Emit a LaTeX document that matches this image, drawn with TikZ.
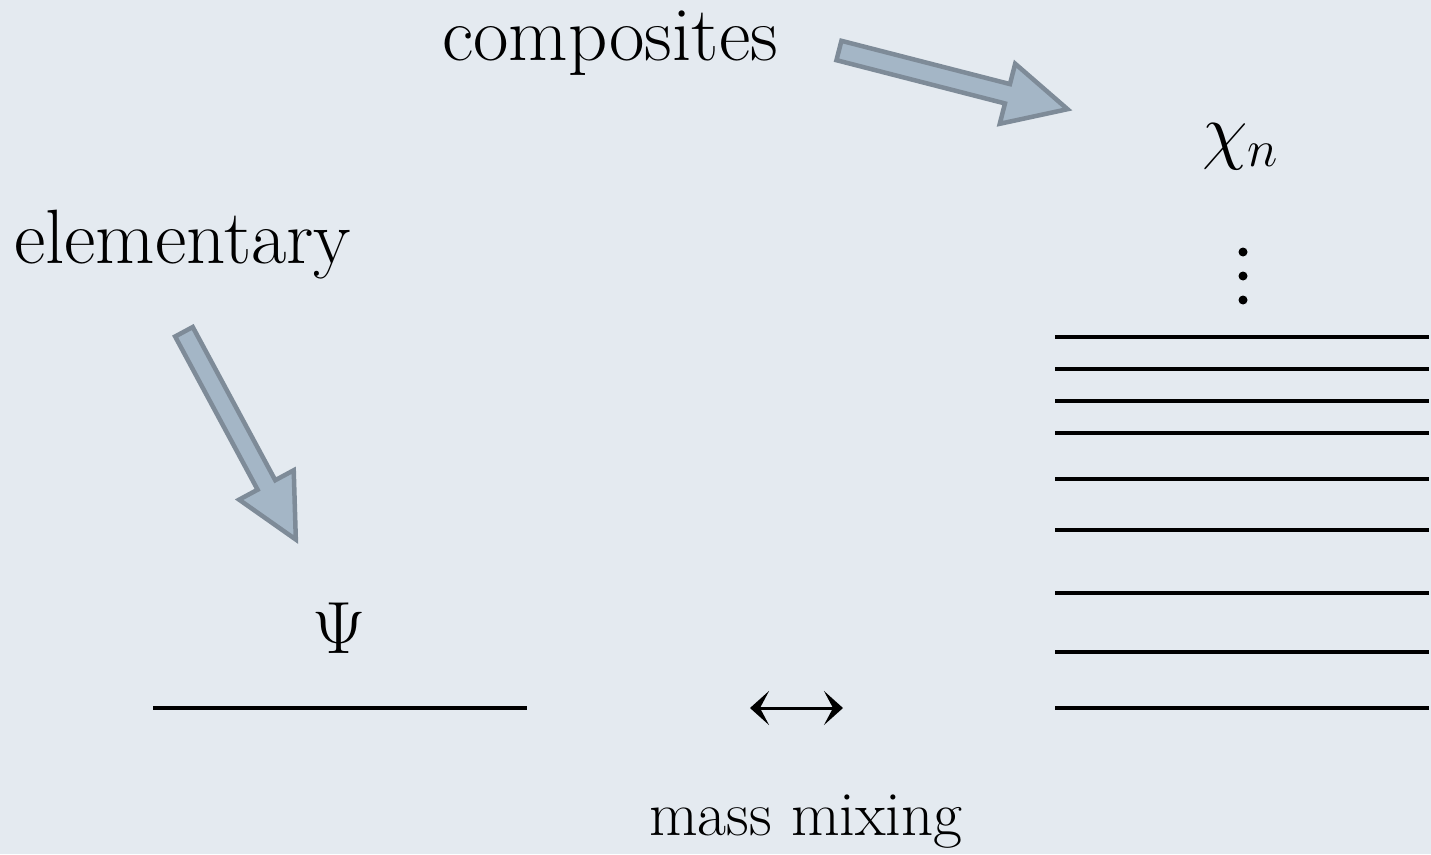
\RequirePackage{fix-cm}
\documentclass[tikz,border=0pt]{standalone}
\usetikzlibrary{arrows.meta}
\definecolor{paper}{RGB}{228,234,240}
\definecolor{arrfill}{RGB}{164,182,198}
\definecolor{arredge}{RGB}{126,139,152}
\tikzset{
  lbl/.style={inner sep=0pt, font=\fontsize{77}{84}\selectfont},
  lblsmall/.style={inner sep=0pt, font=\fontsize{63}{70}\selectfont},
  sym/.style={inner sep=0pt, font=\fontsize{74}{82}\selectfont},
  level/.style={line width=3.3pt, black},
  mixarrow/.style={line width=3pt, {Stealth[length=19pt,width=34pt,inset=9pt]}-{Stealth[length=19pt,width=34pt,inset=9pt]}},
  blockarrow/.pic={
    \draw[line width=4.5pt, line join=miter, draw=arredge, fill=arrfill]
      (2,-10) -- (176,-10) -- (176,-31) -- (238,0) -- (176,31) -- (176,10) -- (2,10) -- cycle;
  }
}
\begin{document}
\begin{tikzpicture}[x=1pt,y=-1pt]
\fill[paper] (0,0) rectangle (1431,854);
\useasboundingbox (0,0) rectangle (1431,854);

% labels
\node[lbl, anchor=base west] (comp) at (442,60) {composites};
\node[lbl, anchor=base west] (elem) at (14,263) {elementary};
\node[lblsmall, anchor=base west] (mix) at (649,835) {mass mixing};
\node[sym, anchor=base] (psi) at (339,653) {$\Psi$};
\node[sym, anchor=base west] (chi) at (1202,155) {$\chi_n$};

% block arrows
\pic[rotate=-14.4] at (837,50) {blockarrow};
\pic[rotate=-61.7] at (183,330) {blockarrow};

% vertical dots
\fill (1243,252) circle (4.5);
\fill (1243,276) circle (4.5);
\fill (1243,300) circle (4.5);

% elementary level
\draw[level] (153,708) -- (527,708);

% composite levels
\foreach \y in {337,369,401,433,479,530,593,652,708}
  \draw[level] (1055,\y) -- (1429,\y);

% mass mixing arrow
\coordinate (mixL) at (750,708);
\coordinate (mixR) at (843,708);
\draw[mixarrow] (mixL) -- (mixR);
\end{tikzpicture}
\end{document}
